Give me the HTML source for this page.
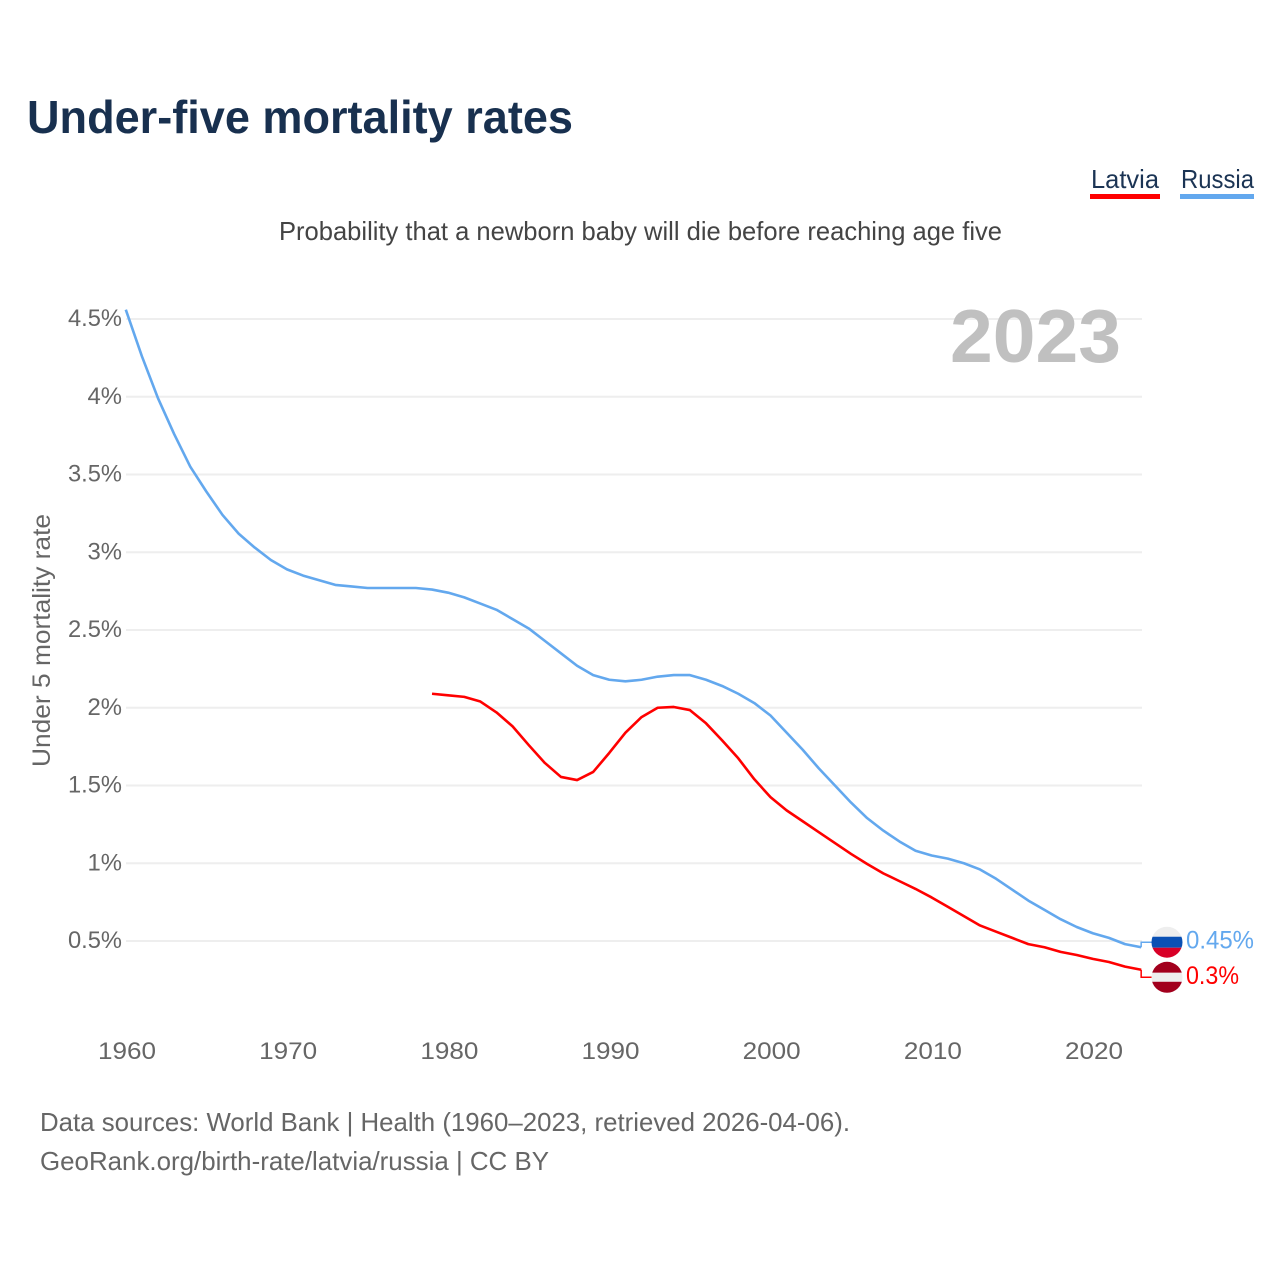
<!DOCTYPE html>
<html lang="en">
<head>
<meta charset="utf-8">
<title>Under-five mortality rates</title>
<style>
html,body{margin:0;padding:0;background:#fff;width:1280px;height:1280px;overflow:hidden}
svg{display:block;font-family:"Liberation Sans",sans-serif}
</style>
</head>
<body>
<svg id="chart" xmlns="http://www.w3.org/2000/svg" width="1280" height="1280" viewBox="0 0 1280 1280">
  <text x="27" y="133" font-size="46" font-weight="700" fill="#18304f" textLength="546" lengthAdjust="spacingAndGlyphs">Under-five mortality rates</text>
  <g>
    <g>
      <text x="1091" y="188" font-size="26" fill="#1b3454" textLength="68" lengthAdjust="spacingAndGlyphs">Latvia</text>
      <rect x="1090" y="194" width="70" height="5" fill="#ff0000"/>
    </g>
    <g>
      <text x="1181" y="188" font-size="26" fill="#1b3454" textLength="73" lengthAdjust="spacingAndGlyphs">Russia</text>
      <rect x="1180" y="194" width="74" height="5" fill="#63a8ee"/>
    </g>
  </g>
  <text x="279" y="240" font-size="26" fill="#444444" textLength="723" lengthAdjust="spacingAndGlyphs">Probability that a newborn baby will die before reaching age five</text>
  <g id="grid"></g>
  <text x="950" y="362" font-size="75" font-weight="700" fill="#c0c0c0" textLength="171" lengthAdjust="spacingAndGlyphs">2023</text>
  <g id="yticks"></g>
  <g id="xticks"></g>
  <text transform="translate(50,640.5) rotate(-90)" text-anchor="middle" font-size="25" fill="#666666" textLength="253" lengthAdjust="spacingAndGlyphs">Under 5 mortality rate</text>
  <g id="series"></g>
  <defs>
    <clipPath id="flag-clip-russia"><circle id="clip-c-russia" cx="1167" cy="942.5" r="15.5"/></clipPath>
    <clipPath id="flag-clip-latvia"><circle id="clip-c-latvia" cx="1167" cy="976.5" r="15.5"/></clipPath>
  </defs>
  <g id="flag-russia">
    <g clip-path="url(#flag-clip-russia)">
      <rect x="1151" y="926" width="32" height="11" fill="#eeeeee"/>
      <rect x="1151" y="937" width="32" height="11" fill="#0a50b4"/>
      <rect x="1151" y="948" width="32" height="11" fill="#d80027"/>
    </g>
  </g>
  <g id="flag-latvia">
    <g clip-path="url(#flag-clip-latvia)">
      <rect x="1151" y="960" width="32" height="12" fill="#a2001d"/>
      <rect x="1151" y="972" width="32" height="9" fill="#eeeeee"/>
      <rect x="1151" y="981" width="32" height="12" fill="#a2001d"/>
    </g>
  </g>
  <g>
    <text x="40" y="1131" font-size="26" fill="#666666" textLength="810" lengthAdjust="spacingAndGlyphs">Data sources: World Bank | Health (1960–2023, retrieved 2026-04-06).</text>
    <text x="40" y="1170" font-size="26" fill="#666666" textLength="509" lengthAdjust="spacingAndGlyphs">GeoRank.org/birth-rate/latvia/russia | CC BY</text>
  </g>
</svg>
<script>
const yTickValues = [0.5, 1, 1.5, 2, 2.5, 3, 3.5, 4, 4.5];
const yTickLabels = ["0.5%", "1%", "1.5%", "2%", "2.5%", "3%", "3.5%", "4%", "4.5%"];
const xTickYears = [1960, 1970, 1980, 1990, 2000, 2010, 2020];
const russiaStartYear = 1960;
const russiaValues = [4.56, 4.26, 3.99, 3.76, 3.55, 3.39, 3.24, 3.12, 3.03, 2.95,
  2.89, 2.85, 2.82, 2.79, 2.78, 2.77, 2.77, 2.77, 2.77, 2.76,
  2.74, 2.71, 2.67, 2.63, 2.57, 2.51, 2.43, 2.35, 2.27, 2.21,
  2.18, 2.17, 2.18, 2.2, 2.21, 2.21, 2.18, 2.14, 2.09, 2.03,
  1.95, 1.84, 1.73, 1.61, 1.5, 1.39, 1.29, 1.21, 1.14, 1.08,
  1.05, 1.03, 1.0, 0.96, 0.9, 0.83, 0.76, 0.7, 0.64, 0.59,
  0.55, 0.52, 0.48, 0.46];
const latviaStartYear = 1979;
const latviaValues = [2.09, 2.08, 2.07, 2.04, 1.97, 1.88, 1.76, 1.645, 1.555, 1.535,
  1.587, 1.71, 1.84, 1.94, 2.0, 2.005, 1.985, 1.9, 1.79, 1.675,
  1.54, 1.425, 1.34, 1.27, 1.2, 1.13, 1.06, 0.995, 0.935, 0.885,
  0.835, 0.78, 0.72, 0.66, 0.6, 0.56, 0.52, 0.48, 0.46, 0.43,
  0.41, 0.385, 0.365, 0.335, 0.315];
const russiaEndLabel = "0.45%";
const latviaEndLabel = "0.3%";

const NS = "http://www.w3.org/2000/svg";
function xScale(year) { return 127 + (year - 1960) * 16.117; }
function yScale(value) { return 1018.75 - value * 155.5; }
function lineX(year) { return xScale(year) - 1.2; }
function svgEl(tag, attrs, parent) {
  const el = document.createElementNS(NS, tag);
  for (const k in attrs) el.setAttribute(k, attrs[k]);
  parent.appendChild(el);
  return el;
}
const TICK_WIDTH_PER_CHAR = { ".": 6, "%": 21 };
function labelWidth(s) {
  let w = 0;
  for (const c of s) w += TICK_WIDTH_PER_CHAR[c] !== undefined ? TICK_WIDTH_PER_CHAR[c] : 13.5;
  return w;
}
const grid = document.getElementById("grid");
const yticks = document.getElementById("yticks");
yTickValues.forEach(function (v, i) {
  const line = svgEl("line", { x1: 126, x2: 1142, y1: yScale(v), y2: yScale(v), stroke: "#eeeeee", "stroke-width": 2 }, grid);
  
  
  const t = svgEl("text", { x: 122, y: yScale(v) + 7, "text-anchor": "end", "font-size": 24, fill: "#666666", textLength: labelWidth(yTickLabels[i]), lengthAdjust: "spacingAndGlyphs" }, yticks);
  
  
  t.textContent = yTickLabels[i];
});
const xticks = document.getElementById("xticks");
xTickYears.forEach(function (yr) {
  const t = svgEl("text", { x: xScale(yr), y: 1059, "text-anchor": "middle", "font-size": 24, fill: "#666666", textLength: 58, lengthAdjust: "spacingAndGlyphs" }, xticks);
  
  
  t.textContent = String(yr);
});
function linePath(start, values) {
  return values.map(function (v, i) {
    return (i ? "L" : "M") + lineX(start + i).toFixed(2) + " " + yScale(v).toFixed(2);
  }).join(" ");
}
const seriesGroup = document.getElementById("series");
const russiaLine = svgEl("path", { d: linePath(russiaStartYear, russiaValues), fill: "none", stroke: "#63a8ee", "stroke-width": 2.6, "stroke-linejoin": "round" }, seriesGroup);


const latviaLine = svgEl("path", { d: linePath(latviaStartYear, latviaValues), fill: "none", stroke: "#ff0000", "stroke-width": 2.6, "stroke-linejoin": "round" }, seriesGroup);



const lastX = lineX(2023);
const russiaEndY = yScale(russiaValues[russiaValues.length - 1]);
const latviaEndY = yScale(latviaValues[latviaValues.length - 1]);
const russiaFlagY = russiaEndY - 5;
const latviaFlagY = latviaEndY + 7.5;
const russiaConn = svgEl("path", { d: "M" + lastX + " " + russiaEndY + " V" + russiaFlagY + " H1152", fill: "none", stroke: "#63a8ee", "stroke-width": 1.5 }, seriesGroup);


const latviaConn = svgEl("path", { d: "M" + lastX + " " + latviaEndY + " V" + latviaFlagY + " H1152", fill: "none", stroke: "#ff0000", "stroke-width": 1.5 }, seriesGroup);



document.getElementById("flag-russia").setAttribute("transform", "translate(0," + (russiaFlagY - 942.5) + ")");
document.getElementById("flag-latvia").setAttribute("transform", "translate(0," + (latviaFlagY - 976.5) + ")");

const russiaLabel = svgEl("text", { x: 1186, y: russiaFlagY + 6.5, "font-size": 25, fill: "#63a8ee", textLength: 68, lengthAdjust: "spacingAndGlyphs" }, seriesGroup);


russiaLabel.textContent = russiaEndLabel;
const latviaLabel = svgEl("text", { x: 1186, y: latviaFlagY + 6.5, "font-size": 25, fill: "#ff0000", textLength: 53, lengthAdjust: "spacingAndGlyphs" }, seriesGroup);


latviaLabel.textContent = latviaEndLabel;
</script>
</body>
</html>
